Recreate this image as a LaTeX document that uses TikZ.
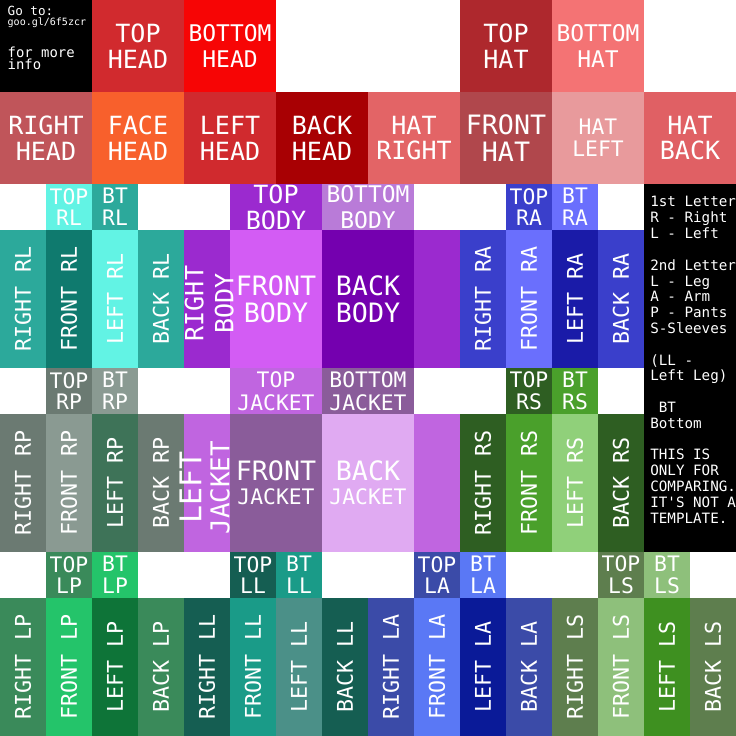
\documentclass[tikz,border=0pt]{standalone}
\usepackage{fontspec}
\newfontfamily\pix{DejaVu Sans Mono}
\newcommand{\fbig}{\pix\fontsize{15.5}{16}\selectfont}
\newcommand{\fmid}{\pix\fontsize{14.2}{16}\selectfont}
\newcommand{\fsml}{\pix\fontsize{13.2}{13.4}\selectfont}
\newcommand{\fbody}{\pix\fontsize{16.5}{16.7}\selectfont}
\newcommand{\flimb}{\pix\fontsize{13.4}{14}\selectfont}
\newcommand{\fnote}{\pix\fontsize{8.8}{9.8}\selectfont}
% head / hat
\definecolor{topHead}{HTML}{D12A2E}
\definecolor{botHead}{HTML}{F70505}
\definecolor{rightHead}{HTML}{C0555A}
\definecolor{faceHead}{HTML}{F8602C}
\definecolor{leftHead}{HTML}{D02A2E}
\definecolor{backHead}{HTML}{A80003}
\definecolor{hatRight}{HTML}{E36466}
\definecolor{frontHat}{HTML}{B0474C}
\definecolor{hatLeft}{HTML}{E89A9C}
\definecolor{hatBack}{HTML}{E06064}
\definecolor{topHat}{HTML}{AE282D}
\definecolor{botHat}{HTML}{F47374}
% body / jacket
\definecolor{bodyA}{HTML}{9B2ACF}
\definecolor{bodyB}{HTML}{B97BD8}
\definecolor{bodyC}{HTML}{D35CF4}
\definecolor{bodyD}{HTML}{7400AF}
\definecolor{jkA}{HTML}{C065E0}
\definecolor{jkB}{HTML}{8A5C9A}
\definecolor{jkC}{HTML}{E0AAF2}
% limbs
\definecolor{rlA}{HTML}{2CA99B}
\definecolor{rlB}{HTML}{0F7A6E}
\definecolor{rlC}{HTML}{62F3E4}
\definecolor{raA}{HTML}{3A3FCB}
\definecolor{raB}{HTML}{6A6FFD}
\definecolor{raC}{HTML}{1A1BA8}
\definecolor{rpA}{HTML}{6B7A72}
\definecolor{rpB}{HTML}{8A9A92}
\definecolor{rpC}{HTML}{3E7358}
\definecolor{rsA}{HTML}{2E5E22}
\definecolor{rsB}{HTML}{4AA02B}
\definecolor{rsC}{HTML}{90D07A}
\definecolor{lpA}{HTML}{3A8A5A}
\definecolor{lpB}{HTML}{24C46A}
\definecolor{lpC}{HTML}{0E7438}
\definecolor{llA}{HTML}{155E52}
\definecolor{llB}{HTML}{1A9B88}
\definecolor{llC}{HTML}{4B9088}
\definecolor{laA}{HTML}{3B4BA8}
\definecolor{laB}{HTML}{5A78F5}
\definecolor{laC}{HTML}{0A1A98}
\definecolor{lsA}{HTML}{5E7E4E}
\definecolor{lsB}{HTML}{8EC07B}
\definecolor{lsC}{HTML}{3E9020}
\tikzset{
	part/.style={rectangle,inner sep=0pt,outer sep=0pt,text=white,align=center},
	sq/.style={part,minimum width=2cm,minimum height=2cm,font=\fbig},
	wide/.style={part,minimum width=2cm,minimum height=1cm,font=\fbig},
	trunk/.style={part,minimum width=2cm,minimum height=3cm,font=\fbody},
	side/.style={part,minimum width=1cm,minimum height=3cm},
	capcell/.style={part,minimum size=1cm,font=\fsml},
	strip/.style={part,rotate=90,minimum width=3cm,minimum height=1cm,font=\flimb},
	note/.style={inner sep=0pt,text=white,anchor=base west,font=\fnote}
}
\begin{document}
\begin{tikzpicture}[x=1cm,y=-1cm]
	\useasboundingbox (0,0) rectangle (16,16);
	\fill[white] (0,0) rectangle (16,16);
	% head and hat
	\node[sq,fill=black] (info) at (1,1) {};
	\node[note,font=\pix\fontsize{7.8}{8}\selectfont] (goto) at (0.16,0.33) {Go to:};
	\node[note,font=\pix\fontsize{6.2}{7}\selectfont] (url) at (0.16,0.565) {goo.gl/6f5zcr};
	\node[note,font=\pix\fontsize{8.6}{9}\selectfont] (more) at (0.16,1.24) {for more};
	\node[note,font=\pix\fontsize{8.6}{9}\selectfont] (infotxt) at (0.16,1.52) {info};
	\node[sq,fill=topHead] (tophead) at (3,1) {TOP\\HEAD};
	\node[sq,fill=botHead,font=\fmid] (bothead) at (5,1) {BOTTOM\\HEAD};
	\node[sq,fill=topHat] (tophat) at (11,1) {TOP\\HAT};
	\node[sq,fill=botHat,font=\fmid] (bothat) at (13,1) {BOTTOM\\HAT};
	\node[sq,fill=rightHead] (righthead) at (1,3) {RIGHT\\HEAD};
	\node[sq,fill=faceHead] (facehead) at (3,3) {FACE\\HEAD};
	\node[sq,fill=leftHead] (lefthead) at (5,3) {LEFT\\HEAD};
	\node[sq,fill=backHead] (backhead) at (7,3) {BACK\\HEAD};
	\node[sq,fill=hatRight] (hatright) at (9,3) {HAT\\RIGHT};
	\node[sq,fill=frontHat,font=\fbody] (fronthat) at (11,3) {FRONT\\HAT};
	\node[sq,fill=hatLeft,font=\fsml] (hatleft) at (13,3) {HAT\\LEFT};
	\node[sq,fill=hatBack] (hatback) at (15,3) {HAT\\BACK};
	% body and jacket
	\node[wide,fill=bodyA] (topbody) at (6,4.5) {TOP\\BODY};
	\node[wide,fill=bodyB,font=\fmid] (botbody) at (8,4.5) {BOTTOM\\BODY};
	\node[side,fill=bodyA] (rightbody) at (4.5,6.5) {};
	\node[trunk,fill=bodyC] (frontbody) at (6,6.5) {FRONT\\BODY};
	\node[trunk,fill=bodyD] (backbody) at (8,6.5) {BACK\\BODY};
	\node[side,fill=bodyA] (sidebody) at (9.5,6.5) {};
	\node[wide,fill=jkA,font=\fsml] (topjacket) at (6,8.5) {TOP\\[1pt]JACKET};
	\node[wide,fill=jkB,font=\fsml] (botjacket) at (8,8.5) {BOTTOM\\[1pt]JACKET};
	\node[side,fill=jkA] (leftjacket) at (4.5,10.5) {};
	\node[trunk,fill=jkB] (frontjacket) at (6,10.5) {FRONT\\[-2pt]{\fsml JACKET}};
	\node[trunk,fill=jkC] (backjacket) at (8,10.5) {BACK\\[-2pt]{\fsml JACKET}};
	\node[side,fill=jkA] (sidejacket) at (9.5,10.5) {};
	% arms, legs, pants, sleeves
	\foreach \x/\y/\p/\cT/\cB/\cR/\cF/\cL in {
		0/4/RL/rlC/rlA/rlA/rlB/rlC,
		10/4/RA/raA/raB/raA/raB/raC,
		0/8/RP/rpA/rpB/rpA/rpB/rpC,
		10/8/RS/rsA/rsB/rsA/rsB/rsC,
		0/12/LP/lpA/lpB/lpA/lpB/lpC,
		4/12/LL/llA/llB/llA/llB/llC,
		8/12/LA/laA/laB/laA/laB/laC,
		12/12/LS/lsA/lsB/lsA/lsB/lsC}{
		\node[capcell,fill=\cT] (top\p) at (\x+1.5,\y+0.5) {TOP\\\p};
		\node[capcell,fill=\cB] (bt\p) at (\x+2.5,\y+0.5) {BT\\\p};
		\node[strip,fill=\cR] (right\p) at (\x+0.5,\y+2.5) {RIGHT \p};
		\node[strip,fill=\cF] (front\p) at (\x+1.5,\y+2.5) {FRONT \p};
		\node[strip,fill=\cL] (left\p) at (\x+2.5,\y+2.5) {LEFT \p};
		\node[strip,fill=\cR] (back\p) at (\x+3.5,\y+2.5) {BACK \p};
	}
	% side texts on top of the neighbours
	\node[part,rotate=90,font=\pix\fontsize{15.5}{18.5}\selectfont] (rightbodytxt) at (4.55,6.6) {RIGHT\\BODY};
	\node[part,rotate=90,font=\pix\fontsize{16}{17.3}\selectfont] (leftjackettxt) at (4.45,10.6) {{\fontsize{18.5}{18}\selectfont LEFT}\\JACKET};
	% legend
	\node[part,fill=black,minimum width=2cm,minimum height=8cm] (legend) at (15,8) {};
	\foreach \k/\txt in {0/1st Letter,1/R - Right,2/L - Left,4/2nd Letter,5/L - Leg,6/A - Arm,
		7/P - Pants,8/S-Sleeves,10/{(LL -},11/{Left Leg)},13/{\ BT},14/Bottom,
		16/THIS IS,17/ONLY FOR,18/COMPARING.,19/IT'S NOT A,20/TEMPLATE.}
		\node[note] (note\k) at (14.13,4.5+0.3435*\k) {\txt};
\end{tikzpicture}
\end{document}
